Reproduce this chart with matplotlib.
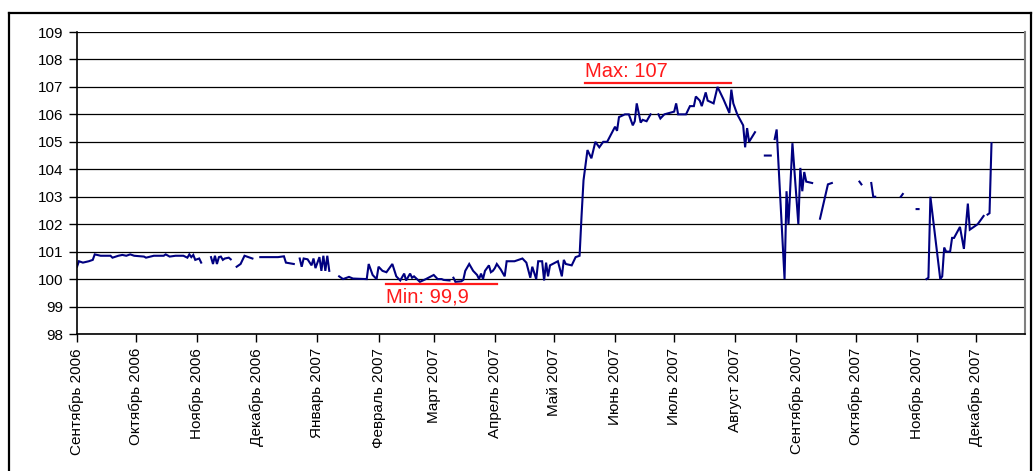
import matplotlib
matplotlib.use("Agg")
import matplotlib.pyplot as plt
import matplotlib.dates as mdates
from matplotlib.lines import Line2D
import numpy as np
import pandas as pd

# ---------------- data ----------------
dates = [
    # segment 1
    "2006-09-01", "2006-09-02", "2006-09-04", "2006-09-07", "2006-09-09", "2006-09-10",
    "2006-09-13", "2006-09-18", "2006-09-19", "2006-09-22", "2006-09-24", "2006-09-26",
    "2006-09-28", "2006-09-30", "2006-10-05", "2006-10-06", "2006-10-10", "2006-10-15",
    "2006-10-16", "2006-10-18", "2006-10-21", "2006-10-25", "2006-10-27", "2006-10-28",
    "2006-10-29", "2006-10-30", "2006-10-31", "2006-11-02", "2006-11-03",
    "2006-11-05",
    # segment 2
    "2006-11-08", "2006-11-09", "2006-11-10", "2006-11-11", "2006-11-12", "2006-11-13",
    "2006-11-14", "2006-11-15", "2006-11-17", "2006-11-18",
    "2006-11-20",
    # segment 3
    "2006-11-21", "2006-11-23", "2006-11-25", "2006-11-27", "2006-11-29",
    "2006-12-01",
    # segment 4
    "2006-12-03", "2006-12-08", "2006-12-12", "2006-12-15", "2006-12-16", "2006-12-20",
    "2006-12-21",
    # segment 5
    "2006-12-23", "2006-12-24", "2006-12-25", "2006-12-27", "2006-12-29", "2006-12-30",
    "2006-12-31", "2007-01-02", "2007-01-03", "2007-01-04", "2007-01-05", "2007-01-06",
    "2007-01-07",
    "2007-01-10",
    # segment 6
    "2007-01-12", "2007-01-14", "2007-01-17", "2007-01-19", "2007-01-26", "2007-01-27",
    "2007-01-29", "2007-01-31", "2007-02-01", "2007-02-03", "2007-02-05", "2007-02-08",
    "2007-02-10", "2007-02-12", "2007-02-14", "2007-02-15", "2007-02-17", "2007-02-18",
    "2007-02-19", "2007-02-22", "2007-02-25", "2007-03-01", "2007-03-03", "2007-03-05",
    "2007-03-06", "2007-03-09",
    "2007-03-10",
    # segment 7
    "2007-03-11", "2007-03-12", "2007-03-15", "2007-03-16", "2007-03-17", "2007-03-19",
    "2007-03-21", "2007-03-23", "2007-03-24", "2007-03-25", "2007-03-26", "2007-03-27",
    "2007-03-29", "2007-03-30", "2007-03-31", "2007-04-01", "2007-04-02", "2007-04-04",
    "2007-04-06", "2007-04-07", "2007-04-11", "2007-04-15", "2007-04-17", "2007-04-19",
    "2007-04-20", "2007-04-22", "2007-04-23", "2007-04-25", "2007-04-26", "2007-04-27",
    "2007-04-28", "2007-04-29", "2007-05-03", "2007-05-05", "2007-05-06", "2007-05-07",
    "2007-05-10", "2007-05-12", "2007-05-14", "2007-05-15", "2007-05-16", "2007-05-18",
    "2007-05-20", "2007-05-22", "2007-05-24", "2007-05-26", "2007-05-28", "2007-06-01",
    "2007-06-02", "2007-06-03", "2007-06-06", "2007-06-08", "2007-06-10", "2007-06-11",
    "2007-06-12", "2007-06-14", "2007-06-15", "2007-06-17", "2007-06-19",
    "2007-06-21",
    # segment 8
    "2007-06-23", "2007-06-24", "2007-06-26", "2007-07-01", "2007-07-02", "2007-07-03",
    "2007-07-07", "2007-07-09", "2007-07-11", "2007-07-12", "2007-07-14", "2007-07-15",
    "2007-07-17", "2007-07-18", "2007-07-21", "2007-07-23", "2007-07-26", "2007-07-29",
    "2007-07-30", "2007-07-31", "2007-08-02", "2007-08-05", "2007-08-06", "2007-08-07",
    "2007-08-08", "2007-08-11",
    "2007-08-13",
    # segment 9
    "2007-08-16", "2007-08-19",
    "2007-08-20",
    # segment 10
    "2007-08-21", "2007-08-22", "2007-08-26", "2007-08-27", "2007-08-28", "2007-08-30",
    "2007-09-02", "2007-09-03", "2007-09-04", "2007-09-05", "2007-09-06", "2007-09-09",
    "2007-09-11",
    # segment 11
    "2007-09-13", "2007-09-17", "2007-09-19",
    "2007-09-25",
    # segment 12
    "2007-10-03", "2007-10-04",
    "2007-10-06",
    # segment 13
    "2007-10-09", "2007-10-10", "2007-10-11",
    "2007-10-18",
    # segment 14
    "2007-10-24", "2007-10-25",
    "2007-10-28",
    # segment 15
    "2007-11-01", "2007-11-02",
    "2007-11-04",
    # segment 16
    "2007-11-06", "2007-11-07", "2007-11-08", "2007-11-13", "2007-11-14", "2007-11-15",
    "2007-11-16", "2007-11-18", "2007-11-19", "2007-11-20", "2007-11-23", "2007-11-25",
    "2007-11-27", "2007-11-28", "2007-12-02", "2007-12-05",
    "2007-12-06",
    # segment 17
    "2007-12-07", "2007-12-08", "2007-12-09",
]

prices = [
    # segment 1
    100.45, 100.65, 100.60, 100.65, 100.70, 100.90,
    100.85, 100.85, 100.78, 100.85, 100.88, 100.85,
    100.90, 100.85, 100.82, 100.78, 100.85, 100.85,
    100.90, 100.82, 100.85, 100.85, 100.78, 100.90,
    100.80, 100.88, 100.70, 100.75, 100.60,
    None,
    # segment 2
    100.80, 100.55, 100.85, 100.55, 100.80, 100.82,
    100.70, 100.75, 100.78, 100.72,
    None,
    # segment 3
    100.45, 100.55, 100.85, 100.80, 100.75,
    None,
    # segment 4
    100.80, 100.80, 100.80, 100.83, 100.60, 100.55,
    None,
    # segment 5
    100.75, 100.45, 100.75, 100.72, 100.50, 100.75,
    100.40, 100.80, 100.30, 100.85, 100.30, 100.85,
    100.30,
    None,
    # segment 6
    100.10, 100.00, 100.08, 100.02, 100.00, 100.55,
    100.15, 100.00, 100.45, 100.30, 100.25, 100.55,
    100.10, 99.95, 100.20, 99.95, 100.20, 100.05,
    100.10, 99.90, 100.00, 100.15, 100.00, 100.00,
    99.97, 99.95,
    None,
    # segment 7
    100.05, 99.90, 99.92, 99.97, 100.30, 100.55,
    100.30, 100.15, 100.00, 100.20, 100.00, 100.30,
    100.50, 100.25, 100.30, 100.40, 100.55, 100.35,
    100.10, 100.65, 100.65, 100.75, 100.60, 100.05,
    100.45, 100.00, 100.65, 100.65, 99.95, 100.60,
    100.10, 100.50, 100.65, 100.10, 100.70, 100.55,
    100.50, 100.80, 100.85, 102.30, 103.60, 104.70,
    104.40, 105.00, 104.80, 105.00, 105.00, 105.55,
    105.40, 105.90, 106.00, 106.00, 105.60, 105.75,
    106.40, 105.70, 105.80, 105.75, 106.00,
    None,
    # segment 8
    106.00, 105.85, 106.00, 106.10, 106.40, 106.00,
    106.00, 106.30, 106.30, 106.65, 106.50, 106.30,
    106.80, 106.50, 106.40, 107.00, 106.55, 106.05,
    106.90, 106.40, 106.00, 105.60, 104.80, 105.50,
    105.00, 105.35,
    None,
    # segment 9
    104.50, 104.50,
    None,
    # segment 10
    105.10, 105.45, 100.00, 103.20, 102.00, 104.95,
    102.00, 104.05, 103.20, 103.90, 103.55, 103.50,
    None,
    # segment 11
    102.20, 103.45, 103.50,
    None,
    # segment 12
    103.55, 103.45,
    None,
    # segment 13
    103.50, 103.00, 103.00,
    None,
    # segment 14
    103.00, 103.10,
    None,
    # segment 15
    102.55, 102.55,
    None,
    # segment 16
    100.00, 100.05, 103.00, 100.00, 100.10, 101.15,
    101.00, 101.00, 101.50, 101.50, 101.90, 101.10,
    102.75, 101.80, 102.00, 102.30,
    None,
    # segment 17
    102.35, 102.40, 104.95,
]

month_starts = ["2006-09-01", "2006-10-01", "2006-11-01", "2006-12-01",
                "2007-01-01", "2007-02-01", "2007-03-01", "2007-04-01",
                "2007-05-01", "2007-06-01", "2007-07-01", "2007-08-01",
                "2007-09-01", "2007-10-01", "2007-11-01", "2007-12-01"]
tick_labels = ["Сентябрь 2006", "Октябрь 2006", "Ноябрь 2006", "Декабрь 2006",
               "Январь 2007", "Февраль 2007", "Март 2007", "Апрель 2007",
               "Май 2007", "Июнь 2007", "Июль 2007", "Август 2007",
               "Сентябрь 2007", "Октябрь 2007", "Ноябрь 2007", "Декабрь 2007"]
y_ticks = list(range(98, 110))

max_label = "Max: 107"
min_label = "Min: 99,9"

# ---------------- plot ----------------
plt.rcParams['font.family'] = ['Liberation Sans', 'DejaVu Sans']

W, H = 1036, 471
fig = plt.figure(figsize=(W / 100, H / 100), dpi=100)
ax = fig.add_axes([77 / W, 1 - 334 / H, (1025 - 77) / W, (334 - 32) / H])

x = pd.to_datetime(dates)
y = np.array([np.nan if v is None else v for v in prices], dtype=float)
ax.plot(x, y, color='#000080', lw=1.5, solid_joinstyle='miter')

ax.set_ylim(98, 109)
ax.set_yticks(y_ticks)
ax.set_xlim(pd.Timestamp("2006-09-01"), pd.Timestamp("2007-12-26"))
ax.set_xticks(pd.to_datetime(month_starts))
ax.set_xticklabels(tick_labels, rotation=90, fontsize=11)
ax.tick_params(axis='y', labelsize=11, length=6, width=1, direction='out', pad=4)
ax.tick_params(axis='x', length=6, width=1, direction='out', pad=4)

ax.grid(axis='y', color='black', lw=0.9)
ax.set_axisbelow(True)
for s in ['top']:
    ax.spines[s].set_visible(False)
ax.spines['right'].set_color('#808080')
ax.spines['right'].set_linewidth(1.5)
ax.spines['left'].set_linewidth(1.2)
ax.spines['bottom'].set_linewidth(1.2)

red = '#ff1a1a'
# Max annotation
ax.plot(pd.to_datetime(["2007-05-17", "2007-07-30"]), [107.15, 107.15], color=red, lw=1.6)
ax.text(pd.Timestamp("2007-05-17"), 107.36, max_label, color=red, fontsize=14.5,
        ha='left', va='baseline')
# Min annotation
ax.plot(pd.to_datetime(["2007-02-05", "2007-04-02"]), [99.82, 99.82], color=red, lw=1.6)
ax.text(pd.Timestamp("2007-02-05"), 99.16, min_label, color=red, fontsize=14.5,
        ha='left', va='baseline')

# outer chart frame
fx0, fy0, fx1 = 8.5 / W, 1 - 12.5 / H, 1030.5 / W
fig.add_artist(Line2D([fx0, fx0], [-0.05, fy0], color='black', lw=1.6, transform=fig.transFigure))
fig.add_artist(Line2D([fx0, fx1], [fy0, fy0], color='black', lw=1.6, transform=fig.transFigure))
fig.add_artist(Line2D([fx1, fx1], [-0.05, fy0], color='black', lw=1.6, transform=fig.transFigure))

fig.savefig("out.png", dpi=100)
